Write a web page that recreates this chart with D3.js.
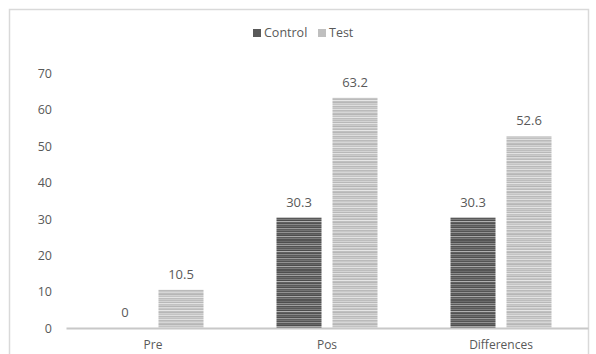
<!DOCTYPE html>
<html>
<head>
<meta charset="utf-8">
<script src="https://cdn.jsdelivr.net/npm/d3@7"></script>
<style>
  html, body { margin: 0; padding: 0; background: #fff; }
  svg { display: block; }
  text { font-family: "Open Sans", "Noto Sans", sans-serif; fill: #595959; }
</style>
</head>
<body>
<svg id="chart" width="596" height="354"></svg>
<script>
// Data
const categories = ["Pre", "Pos", "Differences"];
const seriesNames = ["Control", "Test"];
const controlValues = [0, 30.3, 30.3];
const testValues = [10.5, 63.2, 52.6];
const yTicks = [0, 10, 20, 30, 40, 50, 60, 70];

// Stripe shades for the textured bar fills (one entry per 1px row)
const controlStripes = ["#555","#6a6a6a","#4e4e4e","#8c8c8c","#5c5c5c","#a0a0a0","#505050","#6e6e6e",
  "#585858","#7c7c7c","#4c4c4c","#b0b0b0","#606060","#525252","#888888","#5a5a5a",
  "#6c6c6c","#4f4f4f","#9a9a9a","#5e5e5e","#737373","#545454","#929292","#575757",
  "#666666","#4d4d4d","#a8a8a8","#5b5b5b","#7a7a7a","#535353"];
const testStripes = ["#bdbdbd","#d4d4d4","#b8b8b8","#e2e2e2","#c2c2c2","#cacaca","#b5b5b5","#dadada",
  "#c6c6c6","#bbbbbb","#e6e6e6","#c0c0c0","#b7b7b7","#d0d0d0","#c4c4c4","#dedede",
  "#b9b9b9","#cccccc","#c1c1c1","#e0e0e0","#bababa","#c8c8c8","#d6d6d6","#bebebe",
  "#b6b6b6","#d2d2d2","#c3c3c3","#e4e4e4","#bcbcbc","#cdcdcd"];

const svg = d3.select("#chart");

// Chart frame
svg.append("rect")
  .attr("x", 9.5).attr("y", 9.5)
  .attr("width", 579).attr("height", 360)
  .attr("fill", "#fff").attr("stroke", "#d9d9d9").attr("stroke-width", 1.5);

const plot = { left: 66, right: 588, top: 73, bottom: 328 };

const x0 = d3.scaleBand().domain(categories).range([plot.left, plot.right]).paddingInner(0).paddingOuter(0);
const x1 = d3.scaleBand().domain(seriesNames).range([0, x0.bandwidth()]).paddingInner(0.196).paddingOuter(0.652);
const y = d3.scaleLinear().domain([0, 70]).range([plot.bottom, plot.top]);

// Stripe patterns
const defs = svg.append("defs");
function makePattern(id, stripes) {
  const p = defs.append("pattern")
    .attr("id", id).attr("patternUnits", "userSpaceOnUse")
    .attr("x", 0).attr("y", 0)
    .attr("width", 10).attr("height", stripes.length);
  p.selectAll("rect").data(stripes).join("rect")
    .attr("x", 0).attr("y", (d, i) => i).attr("width", 10).attr("height", 1)
    .attr("fill", d => d);
}
makePattern("stripe-control", controlStripes);
makePattern("stripe-test", testStripes);
const fills = { Control: "url(#stripe-control)", Test: "url(#stripe-test)" };
const swatch = { Control: "#595959", Test: "#bfbfbf" };

// Y axis labels (no axis line, no gridlines)
const yAxis = d3.axisLeft(y).tickValues(yTicks).tickSize(0).tickPadding(0);
const yg = svg.append("g").attr("transform", `translate(${plot.left - 14},0)`).call(yAxis);
yg.select(".domain").remove();
yg.selectAll("text").style("font-size", "12.5px").attr("fill", "#595959").attr("dy", "0.35em");

// Bars
const rows = categories.map((c, i) => ({
  category: c,
  values: [
    { series: "Control", value: controlValues[i] },
    { series: "Test", value: testValues[i] }
  ]
}));

const groups = svg.append("g").selectAll("g").data(rows).join("g")
  .attr("transform", d => `translate(${x0(d.category)},0)`);

groups.selectAll("rect").data(d => d.values).join("rect")
  .attr("x", d => x1(d.series))
  .attr("width", x1.bandwidth())
  .attr("y", d => y(d.value))
  .attr("height", d => y(0) - y(d.value))
  .attr("fill", d => fills[d.series]);

groups.selectAll("text.val").data(d => d.values).join("text")
  .attr("class", "val")
  .attr("x", d => x1(d.series) + x1.bandwidth() / 2)
  .attr("y", d => y(d.value) - 11)
  .attr("text-anchor", "middle")
  .style("font-size", "13px")
  .attr("fill", "#404040")
  .text(d => d.value);

// X axis
const xAxis = d3.axisBottom(x0).tickSize(0).tickPadding(12);
const xg = svg.append("g").attr("transform", `translate(0,${plot.bottom})`).call(xAxis);
xg.select(".domain").attr("stroke", "#c8c8c8").attr("stroke-width", 2);
xg.selectAll("text").style("font-size", "12px").attr("fill", "#595959");

// Legend
const legend = svg.append("g").attr("transform", "translate(253,33)");
const legendItems = [{ name: "Control", x: 0 }, { name: "Test", x: 65 }];
const li = legend.selectAll("g").data(legendItems).join("g")
  .attr("transform", d => `translate(${d.x},0)`);
li.append("rect").attr("x", 0).attr("y", -4).attr("width", 8).attr("height", 8)
  .attr("fill", d => swatch[d.name]);
li.append("text").attr("x", 11).attr("y", 0).attr("dy", "0.35em")
  .style("font-size", "12.5px").attr("fill", "#595959")
  .text(d => d.name);
</script>
</body>
</html>
